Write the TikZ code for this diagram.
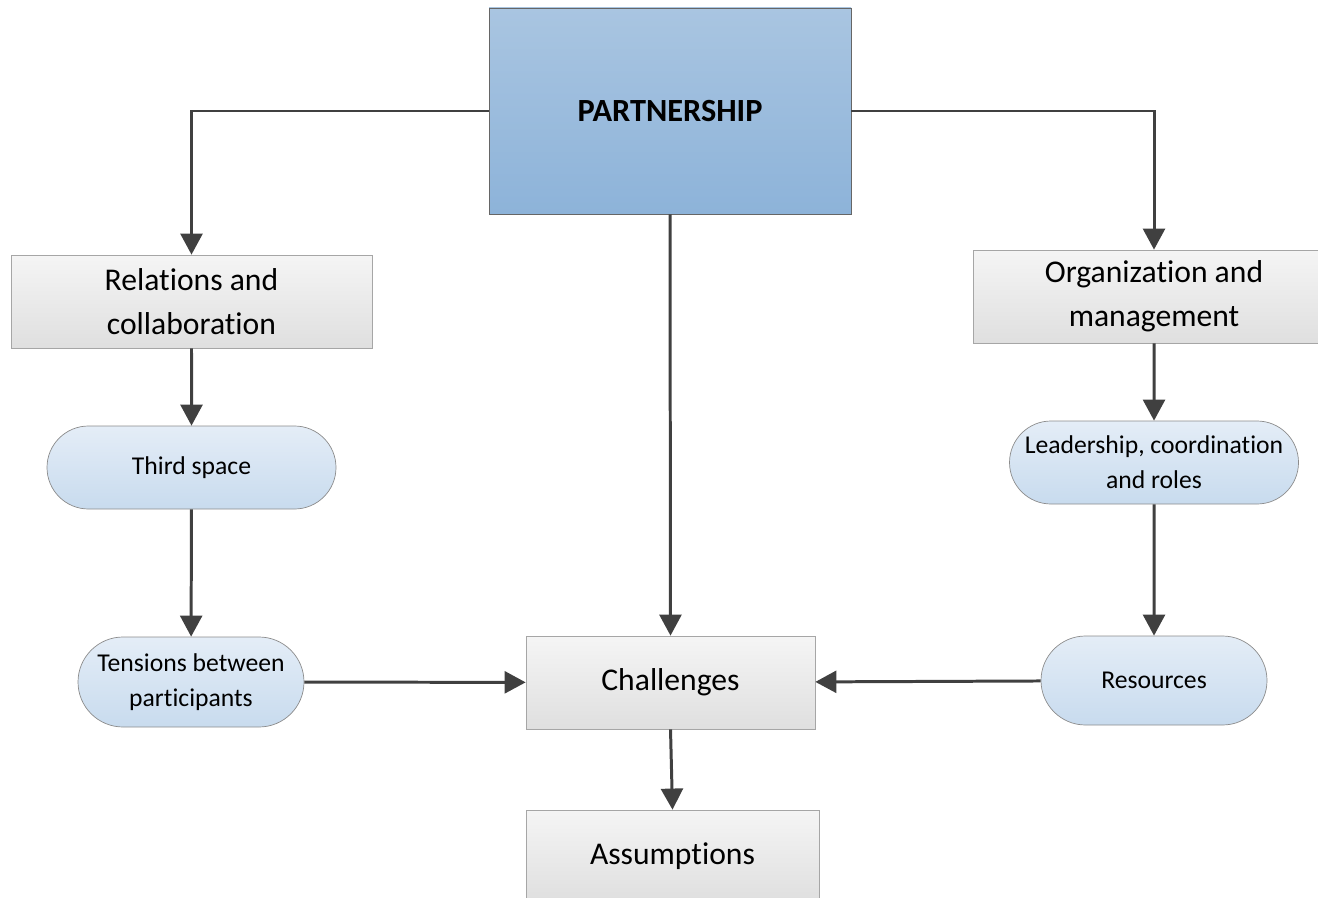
\documentclass[tikz,border=0pt]{standalone}
\usepackage{fontspec}
\setmainfont{Carlito}[Ligatures=NoCommon]
\usetikzlibrary{arrows.meta,shapes.misc}
\definecolor{linegray}{HTML}{404040}
\definecolor{partblue}{HTML}{A9C5E1}
\definecolor{partblueb}{HTML}{8DB3D9}
\definecolor{pillblue}{HTML}{E4EDF7}
\definecolor{pillblueb}{HTML}{C8DBEE}

\begin{document}
\begin{tikzpicture}
\tikzset{topbox/.style={draw=gray!80!black, rectangle, top color=partblue, bottom color=partblueb,
    minimum width=7.24cm, minimum height=4.12cm, inner sep=0pt, font=\fontsize{18.4}{22}\selectfont\bfseries}}
\tikzset{graybox/.style={draw=gray!70, rectangle, top color=gray!8, bottom color=gray!25,
    minimum width=7.22cm, minimum height=1.86cm, inner sep=0pt, align=center, font=\fontsize{18}{25}\selectfont}}
\tikzset{pill/.style={draw=gray!90, rounded rectangle, top color=pillblue, bottom color=pillblueb,
    minimum height=1.66cm, inner sep=0pt, align=center, font=\fontsize{14.6}{20}\selectfont}}
\tikzset{arrow/.style={draw=linegray, line width=1.7pt, -{Triangle[length=12pt,width=12.5pt]}}}

\useasboundingbox (0,0) rectangle (26.36,-17.96);
\clip (0,0) rectangle (26.36,-17.96);

%% top
\node[topbox] at (13.40,-2.22) (part) {PARTNERSHIP};

%% left branch
\node[graybox] at (3.83,-6.03) (rel) {Relations and\\collaboration};
\node[pill, minimum width=5.78cm] at (3.83,-9.35) (third) {Third space};
\node[pill, minimum width=4.52cm, minimum height=1.80cm] at (3.82,-13.64) (tens) {Tensions between\\participants};

%% right branch
\node[graybox, minimum width=7.24cm] at (23.08,-5.93) (org) {Organization and\\management};
\node[pill, minimum width=5.78cm] at (23.08,-9.25) (lead) {Leadership, coordination\\and roles};
\node[pill, minimum width=4.52cm, minimum height=1.78cm] at (23.08,-13.61) (res) {Resources};

%% middle
\node[graybox, minimum width=5.78cm] at (13.41,-13.65) (chal) {Challenges};
\node[graybox, minimum width=5.86cm, minimum height=1.84cm] at (13.45,-17.12) (assum) {Assumptions};

  \draw[arrow] (part.west) -| (rel.north);
  \draw[arrow] (part.east) -| (org.north);
  \draw[arrow] (part.south) -- (chal.north);
  \draw[arrow] (rel) -- (third);
  \draw[arrow] (third) -- (tens);
  \draw[arrow] (tens) -- (chal);
  \draw[arrow] (org) -- (lead);
  \draw[arrow] (lead) -- (res);
  \draw[arrow] (res) -- (chal);
  \draw[arrow] (chal.south) -- (assum.north);

\end{tikzpicture}
\end{document}
